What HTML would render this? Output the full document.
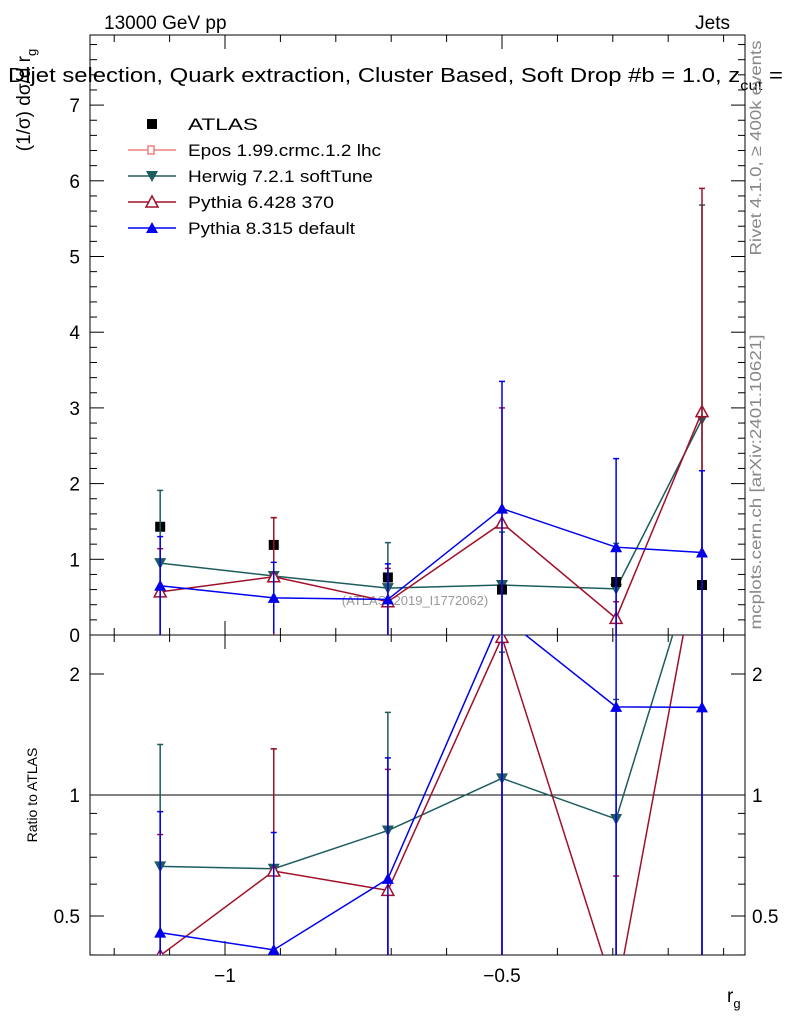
<!DOCTYPE html>
<html><head><meta charset="utf-8"><style>
html,body{margin:0;background:#fff;overflow:hidden;width:786px;height:1024px}
svg{display:block;font-family:"Liberation Sans",sans-serif}
</style></head><body>
<svg id="c" width="786" height="1024" xmlns="http://www.w3.org/2000/svg">
<text x="104" y="29" font-size="19">13000 GeV pp</text>
<text x="730" y="29" font-size="19" text-anchor="end">Jets</text>
<text x="8" y="82" font-size="20" textLength="775" lengthAdjust="spacingAndGlyphs">Dijet selection, Quark extraction, Cluster Based, Soft Drop #b = 1.0, z<tspan font-size="14" dy="8">cut</tspan><tspan dy="-8"> =</tspan></text>
<text transform="translate(30,100) rotate(-90)" font-size="19" text-anchor="middle">(1/σ) dσ/d r<tspan font-size="13" dy="6">g</tspan></text>
<text transform="translate(761,148) rotate(-90)" font-size="16" fill="#888" text-anchor="middle" textLength="215" lengthAdjust="spacingAndGlyphs">Rivet 4.1.0, ≥ 400k events</text>
<text transform="translate(761,482) rotate(-90)" font-size="16" fill="#888" text-anchor="middle" textLength="295" lengthAdjust="spacingAndGlyphs">mcplots.cern.ch [arXiv:2401.10621]</text>
<text x="415" y="605" font-size="13" fill="#999" text-anchor="middle">(ATLAS_2019_I1772062)</text>
<text transform="translate(37,795) rotate(-90)" font-size="14" text-anchor="middle">Ratio to ATLAS</text>
<text x="727" y="1002" font-size="19">r<tspan font-size="13" dy="6">g</tspan></text>
<g id="g"></g>
</svg>
<script>
const xs=[-1.117,-0.912,-0.706,-0.5,-0.294,-0.139];
const atlas=[1.43,1.19,0.76,0.6,0.70,0.66];
const herwig=[0.95,0.78,0.62,0.66,0.61,2.85];
const herwigErr=[0.96,0.77,0.6,0.7,0.6,2.83];
const py6=[0.57,0.77,0.44,1.48,0.22,2.95];
const py6Err=[0.57,0.78,0.44,1.52,0.22,2.95];
const py8=[0.65,0.49,0.47,1.67,1.16,1.09];
const py8Err=[0.65,0.47,0.47,1.68,1.17,1.08];
const xTicks=[-1,-0.5];
const yTicks=[0,1,2,3,4,5,6,7];
const rTicks=[0.5,1,2];

const NS="http://www.w3.org/2000/svg",g=document.getElementById('g');
const L=90,R=745,T=35,M=635,B=955;
const X=v=>225+(v+1)*554;
const Y=v=>635-v*75.7;
const RY=v=>795-Math.log2(v)*121;
function el(t,a,p){const e=document.createElementNS(NS,t);for(const k in a)e.setAttribute(k,a[k]);(p||g).appendChild(e);return e;}
function ln(x1,y1,x2,y2,c,w){return el('line',{x1,y1,x2,y2,stroke:c||'#000','stroke-width':w||1});}
const f1=el('rect',{x:L,y:T,width:R-L,height:M-T,fill:'none',stroke:'#000'});


const f2=el('rect',{x:L,y:M,width:R-L,height:B-M,fill:'none',stroke:'#000'});


for(let v=-1.2;v<=-0.05;v+=0.1){const x=X(+v.toFixed(2));const maj=xTicks.some(t=>Math.abs(t-v)<1e-6);const s=maj?14:7;
 ln(x,M,x,M-s);ln(x,T,x,T+s);ln(x,B,x,B-s);ln(x,M,x,M+s);}
xTicks.forEach(t=>{const e=el('text',{x:X(t),y:982,'font-size':19,'text-anchor':'middle'});e.textContent=(t<0?'−':'')+Math.abs(t);

});
for(let v=0;v<=7.9;v+=0.2){const y=Y(v);const maj=Math.abs(v-Math.round(v))<1e-6;const s=maj?14:7;ln(L,y,L+s,y);ln(R,y,R-s,y);}
yTicks.forEach(t=>{const e=el('text',{x:80,y:Y(t)+7,'font-size':19,'text-anchor':'end'});e.textContent=t;

});
[0.4,0.5,0.6,0.7,0.8,0.9,1,2].forEach(v=>{const y=RY(v);const maj=rTicks.includes(v);const s=maj?14:7;if(y>B||y<M)return;ln(L,y,L+s,y);ln(R,y,R-s,y);});
rTicks.forEach(t=>{[[80,'end'],[752,'start']].forEach(([x,a])=>{const e=el('text',{x,y:RY(t)+7,'font-size':19,'text-anchor':a});e.textContent=t;

});});
const one=ln(L,RY(1),R,RY(1));


const defs=el('defs',{});
const c1=el('clipPath',{id:'cm'},defs);el('rect',{x:L,y:T,width:R-L,height:M-T},c1);
const c2=el('clipPath',{id:'cr'},defs);el('rect',{x:L,y:M,width:R-L,height:B-M},c2);
const gm=el('g',{'clip-path':'url(#cm)'}),gr=el('g',{'clip-path':'url(#cr)'});
function marker(p,x,y,type,c,name){let e;
 if(type==='sq')e=el('rect',{x:x-5,y:y-5,width:10,height:10,fill:c},p);
 else if(type==='dn')e=el('polygon',{points:`${x-6},${y-5} ${x+6},${y-5} ${x},${y+6}`,fill:c},p);
 else if(type==='up')e=el('polygon',{points:`${x-6},${y+5} ${x+6},${y+5} ${x},${y-6}`,fill:c},p);
 else e=el('polygon',{points:`${x-6},${y+5} ${x+6},${y+5} ${x},${y-6}`,fill:'#fff',stroke:c,'stroke-width':1.5},p);
 
 }
const series=[['herwig',herwig,herwigErr,'#1d5c5c','dn'],['pythia6',py6,py6Err,'#a0102a','open'],['pythia8',py8,py8Err,'#0000ee','up']];
series.forEach(([n,v,er,c,t])=>{
 const pl=el('polyline',{points:xs.map((x,i)=>X(x)+','+Y(v[i])).join(' '),fill:'none',stroke:c,'stroke-width':1.5},gm);
 
 
 const rp=el('polyline',{points:xs.map((x,i)=>X(x)+','+RY(v[i]/atlas[i])).join(' '),fill:'none',stroke:c,'stroke-width':1.5},gr);
 
 
 xs.forEach((x,i)=>{const px=X(x);
  ln(px,Y(Math.max(0,v[i]-er[i])),px,Y(v[i]+er[i]),c,1.5);
  ln(px-3,Y(v[i]+er[i]),px+3,Y(v[i]+er[i]),c,1.5);
  const lo=Math.max(v[i]-er[i],0.001)/atlas[i],hi=(v[i]+er[i])/atlas[i];
  el('line',{x1:px,y1:RY(lo),x2:px,y2:RY(hi),stroke:c,'stroke-width':1.5},gr);
  el('line',{x1:px-3,y1:RY(hi),x2:px+3,y2:RY(hi),stroke:c,'stroke-width':1.5},gr);
  marker(gm,px,Y(v[i]),t,c,n+'-point');
  marker(gr,px,RY(v[i]/atlas[i]),t,c,n+'-ratio-point');});
});
xs.forEach((x,i)=>marker(gm,X(x),Y(atlas[i]),'sq','#000','atlas-point'));
const leg=[['ATLAS','sq','#000',70],['Epos 1.99.crmc.1.2 lhc','epos','#f08080',193],['Herwig 7.2.1 softTune','dn','#1d5c5c',185],['Pythia 6.428 370','open','#a0102a',146],['Pythia 8.315 default','up','#0000ee',167]];
leg.forEach(([lab,t,c,w],i)=>{const y=124+i*26;
 if(t!=='sq')ln(128,y,176,y,c,1.5);
 if(t==='epos'){const e=el('rect',{x:148,y:y-4,width:6,height:8,fill:'#fff',stroke:c,'stroke-width':1.5});}
 else marker(g,152,y,t,c,'legend-marker');
 const e=el('text',{x:188,y:y+6,'font-size':17,textLength:w,lengthAdjust:'spacingAndGlyphs'});e.textContent=lab;
 
 });
</script>
</body></html>
